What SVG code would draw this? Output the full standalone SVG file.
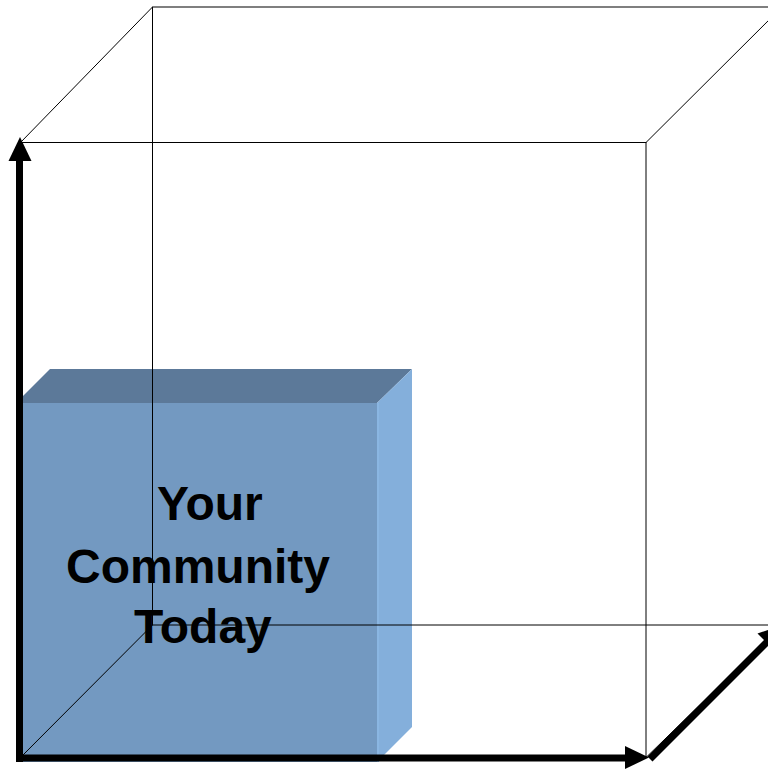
<svg xmlns="http://www.w3.org/2000/svg" width="768" height="769" viewBox="0 0 768 769">
<style>
.edge{stroke:#000;stroke-width:1;fill:none}
.axis{stroke:#000;stroke-width:7;fill:none}
.head{fill:#000}
.lbl{font-family:"Liberation Sans",Arial,sans-serif;font-weight:bold;font-size:48px;fill:#000}
</style>
<rect width="768" height="769" fill="#fff"/>
<g id="community-box">
<polygon points="16,403 50,369 412,369 377,403" fill="#5C7999"/>
<polygon points="377,403 412,369 412,727 377,762" fill="#84AFDB"/>
<rect x="16" y="403" width="361" height="359" fill="#7399C1"/>
<rect x="377" y="403" width="2" height="359" fill="#8AB6E2"/>
</g>
<g id="cube">
<rect class="edge" x="20.5" y="142.5" width="625.5" height="615"/>
<rect class="edge" x="152.5" y="7" width="630" height="618"/>
<line class="edge" x1="20.5" y1="142.5" x2="152.5" y2="7"/>
<line class="edge" x1="646" y1="142.5" x2="782" y2="7"/>
<line class="edge" x1="20.5" y1="757.5" x2="152.5" y2="625"/>
<line class="edge" x1="646" y1="757.5" x2="782" y2="625"/>
</g>
<g id="label">
<text class="lbl" x="157" y="520">Your</text>
<text class="lbl" x="66" y="583">Community</text>
<text class="lbl" x="134" y="643">Today</text>
</g>
<g id="connectors">
<line class="axis" x1="19.5" y1="762" x2="19.5" y2="158"/>
<polygon class="head" points="20,137 8.5,161 31.5,161"/>
<line class="axis" x1="16" y1="758" x2="627" y2="758"/>
<polygon class="head" points="649,757.5 625,746 625,769"/>
<line class="axis" x1="650" y1="759" x2="768" y2="641"/>
<polygon class="head" points="783,625 757.5,633.5 774.5,650.5"/>
</g>
</svg>
